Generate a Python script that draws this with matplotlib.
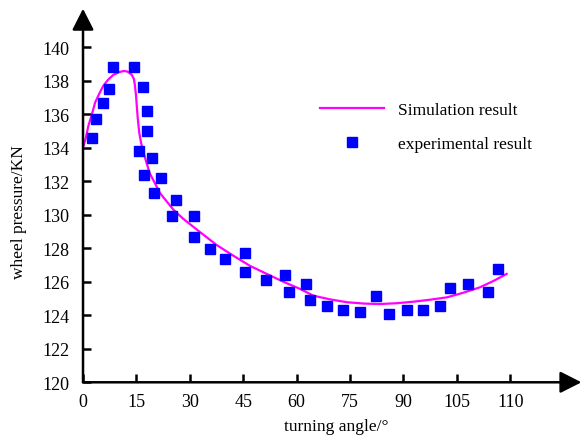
import matplotlib
matplotlib.use('Agg')
import matplotlib.pyplot as plt

plt.rcParams['font.family'] = ['Liberation Serif', 'DejaVu Serif']

# simulation curve
sim_x = [0, 0.8, 1.5, 2.5, 3.4, 4.5, 5.7, 7.0, 8.5, 10.0, 11.3, 12.5, 13.7, 14.3, 14.6,
         14.9, 15.1, 15.4, 15.8, 16.3, 17.0, 18.7, 21.6, 25.4, 28.2, 32.9, 37.5, 42.2,
         46.9, 51.6, 56.3, 61.0, 64.7, 69.4, 74.1, 78.8, 83.4, 88.1, 92.8, 97.5, 102.2,
         106.9, 111.5, 115.3, 119.0]
sim_y = [134.0, 134.6, 135.3, 136.0, 136.7, 137.2, 137.7, 138.05, 138.35, 138.5, 138.58,
         138.55, 138.35, 138.1, 137.7, 137.1, 136.5, 135.7, 134.9, 134.3, 133.7, 132.5,
         131.3, 130.3, 129.75, 128.96, 128.2, 127.56, 126.95, 126.47, 126.0, 125.57,
         125.17, 124.95, 124.78, 124.7, 124.67, 124.72, 124.81, 124.93, 125.07, 125.35,
         125.67, 126.05, 126.47]

# experimental points
exp_x = [2.6, 3.7, 5.5, 7.3, 8.5, 14.3, 16.8, 17.9, 17.9, 15.6, 19.5, 17.1, 21.9, 19.8,
         26.1, 25.0, 31.3, 31.3, 35.6, 39.8, 45.4, 45.5, 51.3, 56.7, 57.9, 62.5, 63.8,
         68.4, 73.1, 77.8, 82.4, 85.9, 90.9, 95.4, 100.4, 103.0, 108.0, 113.8, 116.7]
exp_y = [134.6, 135.7, 136.7, 137.5, 138.8, 138.8, 137.6, 136.2, 135.0, 133.8, 133.4,
         132.4, 132.2, 131.3, 130.9, 129.9, 129.9, 128.66, 127.98, 127.36, 127.72, 126.57,
         126.1, 126.4, 125.39, 125.85, 124.91, 124.57, 124.32, 124.2, 125.15, 124.08,
         124.34, 124.34, 124.57, 125.6, 125.85, 125.37, 126.75]

xtick_vals = [0, 15, 30, 45, 60, 75, 90, 105, 120]
xtick_labels = ['0', '15', '30', '45', '60', '75', '90', '105', '110']
ytick_vals = [120, 122, 124, 126, 128, 130, 132, 134, 136, 138, 140]

fig = plt.figure(figsize=(5.85, 4.39), dpi=100)
ax = fig.add_axes([0.1419, 0.1269, 0.852, 0.851])

ax.plot(sim_x, sim_y, color='#ff00ff', lw=1.6, label='Simulation result')
ax.plot(exp_x, exp_y, 's', color='#0000ff', markersize=7.5, lw=0,
        label='experimental result')

ax.set_xlim(0, 140)
ax.set_ylim(120, 142.3)
ax.set_xticks(xtick_vals)
ax.set_xticklabels(xtick_labels)
ax.set_yticks(ytick_vals)

for s in ['top', 'right', 'left', 'bottom']:
    ax.spines[s].set_visible(False)

arrow = dict(arrowstyle='-|>,head_length=0.65,head_width=0.33', lw=1.8, color='k',
             mutation_scale=20, shrinkA=0, shrinkB=0)
ax.annotate('', xy=(1, 0), xytext=(0, 0), xycoords='axes fraction', arrowprops=arrow)
ax.annotate('', xy=(0, 1), xytext=(0, 0), xycoords='axes fraction', arrowprops=arrow)

ax.tick_params(direction='in', length=6, width=1.8, labelsize=13, colors='k')
ax.tick_params(axis='y', pad=10)
ax.tick_params(axis='x', pad=8)

ax.set_xlabel('turning angle/°', fontsize=12.5)
ax.set_ylabel('wheel pressure/KN', fontsize=12.5)
ax.xaxis.set_label_coords(0.508, -0.095)
ax.yaxis.set_label_coords(-0.112, 0.459)

ax.legend(loc='center left', bbox_to_anchor=(0.444, 0.684), frameon=False,
          fontsize=12.5, handlelength=3.7, numpoints=1, labelspacing=1.0,
          handletextpad=0.8)

fig.savefig('out.png', dpi=100)
